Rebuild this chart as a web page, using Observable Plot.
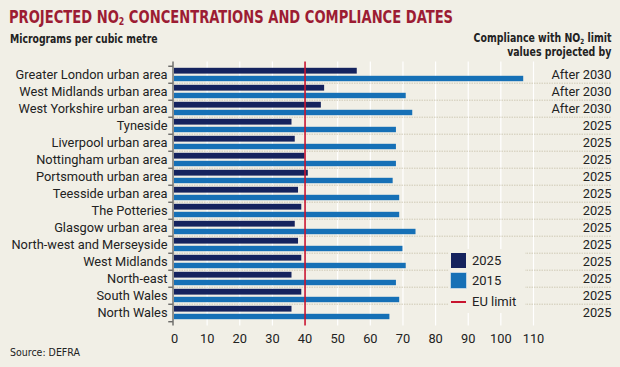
<!DOCTYPE html>
<html><head><meta charset="utf-8">
<script src="https://cdn.jsdelivr.net/npm/d3@7"></script>
<script src="https://cdn.jsdelivr.net/npm/@observablehq/plot@0.6"></script>
<style>
body{margin:0;background:#f1efe6;}
#wrap{position:relative;width:620px;height:367px;background:#f1efe6;overflow:hidden;font-family:Roboto,sans-serif;color:#222;}
.cond{font-family:"Liberation Sans Narrow","DejaVu Sans Condensed",sans-serif;}
#title{position:absolute;left:9px;top:8px;font-size:18px;font-weight:bold;color:#9c1c33;white-space:nowrap;line-height:1;transform:scaleX(0.81);transform-origin:0 0;}
#sub{position:absolute;left:10px;top:33px;font-size:12px;font-weight:bold;white-space:nowrap;line-height:1;transform:scaleX(0.86);transform-origin:0 0;}
#rhead{position:absolute;right:9px;top:32px;font-size:12px;font-weight:bold;text-align:right;line-height:13.5px;white-space:nowrap;transform:scaleX(0.87);transform-origin:100% 0;}
#rhead div{height:13.5px;}
#source{position:absolute;left:10px;top:347px;font-size:10.5px;white-space:nowrap;line-height:1;}
sub{font-size:60%;vertical-align:-2px;line-height:0;}
#chart{position:absolute;left:0;top:0;}
#legend{position:absolute;left:449px;top:249px;width:76px;height:64px;background:#f1efe6;font-size:13px;}
.sw{position:absolute;left:2px;width:15px;height:15px;}
.lt{position:absolute;left:23px;line-height:1;}
</style></head>
<body>
<div id="wrap">
  <div id="chart"></div>
  <div id="title" class="cond">PROJECTED NO<sub>2</sub> CONCENTRATIONS AND COMPLIANCE DATES</div>
  <div id="sub" class="cond">Micrograms per cubic metre</div>
  <div id="rhead" class="cond"><div>Compliance with NO<sub>2</sub> limit</div><div>values projected by</div></div>
  <div id="source" class="cond">Source: DEFRA</div>
  <div id="legend"></div>
</div>
<script>
const regions = ["Greater London urban area","West Midlands urban area","West Yorkshire urban area","Tyneside","Liverpool urban area","Nottingham urban area","Portsmouth urban area","Teesside urban area","The Potteries","Glasgow urban area","North-west and Merseyside","West Midlands","North-east","South Wales","North Wales"];
const v2025 = [56,46,45,36,37,40,41,38,39,37,38,39,36,39,36];
const v2015 = [107,71,73,68,68,68,67,69,69,74,70,71,68,69,66];
const compliance = ["After 2030","After 2030","After 2030","2025","2025","2025","2025","2025","2025","2025","2025","2025","2025","2025","2025"];
const euLimit = 40;
const xTicks = [0,10,20,30,40,50,60,70,80,90,100,110];
const seriesNames = ["2025","2015"];
const colors = {"2025":"#15235e","2015":"#1670b6", eu:"#c8142f"};

const rows = regions.map((r,i)=>({region:r, a:v2025[i], b:v2015[i], comp:compliance[i]}));
const W = 620, H = 367, mTop = 61.5, mBottom = 41.5;
const bw = (H - mTop - mBottom) / regions.length;

const plot = Plot.plot({
  width: W, height: H,
  marginTop: mTop, marginBottom: mBottom, marginLeft: 174, marginRight: 87,
  style: {fontFamily: "Roboto, sans-serif", fontSize: "12.8px", color: "#222", background: "transparent", overflow: "visible"},
  x: {domain: [0,110], ticks: xTicks, tickSize: 0, tickPadding: 8, label: null},
  y: {domain: regions, padding: 0, tickSize: 0, tickPadding: 7, label: null},
  marks: [
    Plot.ruleX(xTicks.slice(1), {stroke: "#ffffff", strokeWidth: 1.2}),
    Plot.ruleY(rows.slice(1), {y: "region", dy: -bw/2, x1: 0, x2: 134, stroke: "#cfcab6", strokeDasharray: "1.5,1"}),
    Plot.barX(rows, {y: "region", x: "a", fill: colors["2025"], insetTop: 1.8, insetBottom: 9.4}),
    Plot.barX(rows, {y: "region", x: "b", fill: colors["2015"], insetTop: 9.8, insetBottom: 1.8}),
    Plot.ruleX([euLimit], {stroke: colors.eu, strokeWidth: 1.6}),
    Plot.ruleX([0], {dx: -1.5, stroke: "#333", strokeWidth: 1}),
    Plot.ruleY(rows, {y: "region", dy: -bw/2, x1: -1.3, x2: 0, dx: -1.5, stroke: "#333"}),
    Plot.ruleY(rows.slice(-1), {y: "region", dy: bw/2, x1: -1.3, x2: 0, dx: -1.5, stroke: "#333"}),
    Plot.text(rows, {y: "region", text: "comp", frameAnchor: "right", textAnchor: "end", dx: 78, fill: "#222"})
  ]
});
document.getElementById("chart").appendChild(plot);

const leg = document.getElementById("legend");
leg.innerHTML =
  `<div class="sw" style="top:4px;background:${colors["2025"]}"></div><div class="lt" style="top:5px">${seriesNames[0]}</div>` +
  `<div class="sw" style="top:24px;background:${colors["2015"]};box-shadow:0 0 0 0.6px #9cc3e3"></div><div class="lt" style="top:25px">${seriesNames[1]}</div>` +
  `<div class="sw" style="top:52px;height:2.2px;background:${colors.eu}"></div><div class="lt" style="top:46px">EU limit</div>`;
</script>
</body></html>
